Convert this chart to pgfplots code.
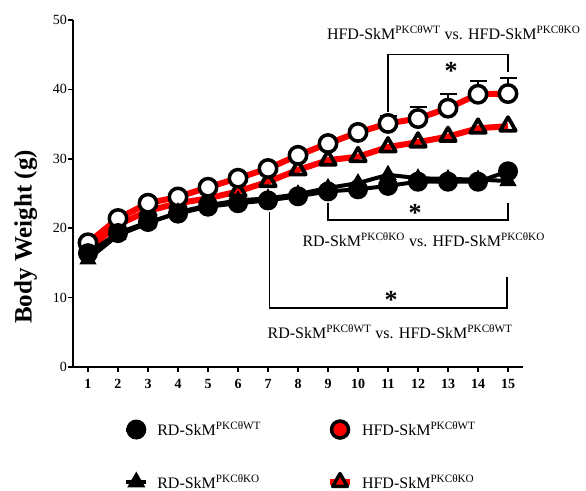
\documentclass[border=0pt]{standalone}
\usepackage{fontspec}
\setmainfont{Liberation Serif}
\usepackage{pgfplots}
\pgfplotsset{compat=1.18}
\newcommand{\sz}[1]{\fontsize{#1}{#1}\selectfont}
\begin{document}
\begin{tikzpicture}
\begin{axis}[
  scale only axis,
  width=450bp, height=347bp,
  xmin=0.5, xmax=15.5, ymin=0, ymax=50,
  axis lines=left,
  axis line style={-, line width=1.5bp},
  xtick={1,...,15}, ytick={0,10,...,50},
  tick align=outside,
  major tick length=5bp,
  tick style={black, line width=1.5bp},
  /pgf/number format/assume math mode=true,
  yticklabel style={font=\sz{14bp}, inner sep=1bp},
  xticklabel style={font=\bfseries\sz{14bp}, inner sep=2bp, yshift=-5bp},
  ylabel={Body Weight (g)},
  ylabel style={at={(axis description cs:-0.105,0.375)}, anchor=center, font=\bfseries\sz{25bp}},
  clip=false,
  legend columns=2,
  legend cell align=left,
  legend image code/.code={
    \draw[#1, mark=none] (-10bp,0bp) -- (10bp,0bp);
    \draw[#1] plot coordinates {(0bp,0bp)};
  },
  legend style={draw=none, fill=none, inner sep=0pt, outer sep=0pt,
    at={(axis description cs:0.114,-0.152)}, anchor=north west,
    font=\sz{16bp}, row sep=33bp,
    nodes={inner sep=2bp},
    /tikz/every odd column/.append style={column sep=7bp},
    /tikz/every even column/.append style={column sep=64bp}},
]
% legend images
\addlegendimage{black, line width=4bp, mark=*, mark size=9.5bp, mark options={fill=black, draw=black, line width=1bp}}
\addlegendentry{RD-SkM\textsuperscript{PKCθWT}}
\addlegendimage{red, line width=6bp, mark=*, mark size=8.5bp, mark options={fill=red, draw=black, line width=3.5bp}}
\addlegendentry{HFD-SkM\textsuperscript{PKCθWT}}
\addlegendimage{black, line width=4bp, mark=triangle*, mark size=9.5bp, mark options={fill=black, draw=black, line width=1bp}}
\addlegendentry{RD-SkM\textsuperscript{PKCθKO}}
\addlegendimage{red, line width=6bp, mark=triangle*, mark size=8.5bp, mark options={fill=red, draw=black, line width=3.5bp, line join=round}}
\addlegendentry{HFD-SkM\textsuperscript{PKCθKO}}

% HFD KO
\addplot[red, line width=6bp, mark=triangle, mark size=9bp, mark options={draw=black, line width=3.8bp, line join=round}, forget plot] coordinates {
(1,17.0) (2,20.5) (3,22.5) (4,23.6) (5,24.3) (6,25.3) (7,26.7) (8,28.4) (9,29.8) (10,30.3) (11,31.7) (12,32.4) (13,33.2) (14,34.4) (15,34.7)};
% HFD WT error bars
\addplot[only marks, mark=none, black, forget plot,
  error bars/.cd, y dir=plus, y explicit,
  error bar style={line width=2bp, black},
  error mark options={rotate=90, mark size=8.5bp, line width=2bp, black}] coordinates {
(11,35.1) +- (0,1.0) (12,35.8) +- (0,1.6) (13,37.3) +- (0,2.0) (14,39.3) +- (0,1.9) (15,39.4) +- (0,2.3)};
% HFD WT
\addplot[red, line width=6bp, mark=*, mark size=8.7bp, mark options={draw=black, fill=white, line width=3.5bp}, forget plot] coordinates {
(1,17.9) (2,21.4) (3,23.6) (4,24.5) (5,25.9) (6,27.2) (7,28.6) (8,30.5) (9,32.2) (10,33.8) (11,35.1) (12,35.8) (13,37.3) (14,39.3) (15,39.4)};
% RD KO
\addplot[black, line width=4bp, mark=triangle*, mark size=9bp, mark options={fill=black, line width=1bp}, forget plot] coordinates {
(1,15.5) (2,19.0) (3,20.7) (4,22.3) (5,23.3) (6,24.0) (7,24.3) (8,24.9) (9,25.8) (10,26.5) (11,27.7) (12,27.2) (13,27.1) (14,27.0) (15,26.8)};
% RD WT
\addplot[black, line width=4bp, mark=*, mark size=9.5bp, mark options={fill=black, line width=1bp}, forget plot] coordinates {
(1,16.4) (2,19.3) (3,20.9) (4,22.1) (5,23.1) (6,23.6) (7,24.0) (8,24.6) (9,25.3) (10,25.6) (11,26.1) (12,26.7) (13,26.7) (14,26.7) (15,28.2)};

% brackets
\draw[line width=1.3bp] (axis cs:11,36.8) -- (axis cs:11,45.0) -- (axis cs:15,45.0) -- (axis cs:15,42.5);
\draw[line width=1.3bp] (axis cs:9,23.6) -- (axis cs:9,21.2) -- (axis cs:15,21.2) -- (axis cs:15,23.6);
\draw[line width=1.3bp] (axis cs:7.05,22.4) -- (axis cs:7.05,8.5) -- (axis cs:14.97,8.5) -- (axis cs:14.97,13.0);
% stars
\node[font=\bfseries\sz{26bp}, inner sep=0pt, anchor=north] at (axis cs:13.1,43.9) {*};
\node[font=\bfseries\sz{26bp}, inner sep=0pt, anchor=north] at (axis cs:11.9,23.4) {*};
\node[font=\bfseries\sz{26bp}, inner sep=0pt, anchor=north] at (axis cs:11.1,10.9) {*};
% texts
\node[font=\sz{16bp}, inner sep=0pt, anchor=base] at (axis cs:13.19,47.2) {HFD-SkM\textsuperscript{PKCθWT} vs. HFD-SkM\textsuperscript{PKCθKO}};
\node[font=\sz{16bp}, inner sep=0pt, anchor=base] at (axis cs:12.19,17.36) {RD-SkM\textsuperscript{PKCθKO} vs. HFD-SkM\textsuperscript{PKCθKO}};
\node[font=\sz{16bp}, inner sep=0pt, anchor=base] at (axis cs:11.07,4.13) {RD-SkM\textsuperscript{PKCθWT} vs. HFD-SkM\textsuperscript{PKCθWT}};
\end{axis}
\pgfresetboundingbox
\path (-73bp,-124bp) rectangle (513bp,367bp);
\end{tikzpicture}
\end{document}
